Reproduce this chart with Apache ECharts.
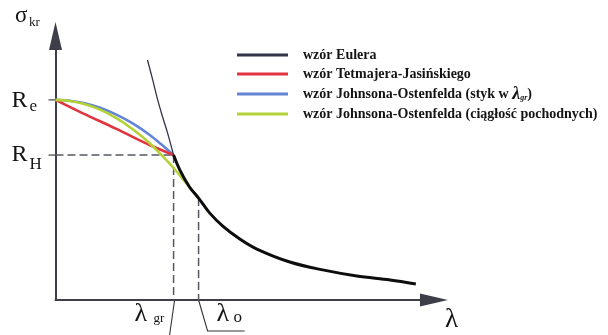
<!DOCTYPE html>
<html><head><meta charset="utf-8">
<script src="https://cdn.jsdelivr.net/npm/echarts@6/dist/echarts.min.js"></script>
<style>html,body{margin:0;padding:0;background:#fff}#c{width:608px;height:335px}</style>
</head><body><div id="c"></div>
<script>
// characteristic values (abstract units)
const RE = 75.8, RH = 54.9, LGR = 31.2, LO = 37.8, SIG_LO = 38.6;
// Euler hyperbola, thin part (above R_H)
const eulerThinX = [24.3, 25.7, 27.0, 28.3, 29.6, 31.2];
const eulerThinY = [90.9, 83.3, 75.8, 69.3, 63.3, 54.9];
// Euler hyperbola, thick part (valid range)
const eulerX = [31.2, 32.8, 35.4, 37.8, 40.7, 44.2, 48.7, 53.2, 61.9, 70.6, 79.6, 88.4, 95.2];
const eulerY = [54.9, 49.4, 42.8, 38.6, 33.0, 28.0, 23.1, 19.3, 14.4, 11.4, 9.1, 7.6, 6.1];
// Tetmajer-Jasinski
const tetX = [0, 7.1, 16.1, 24.9, 31.2];
const tetY = [75.8, 70.8, 64.8, 58.7, 54.9];
// Johnson-Ostenfeld (styk w lambda_gr)
const johX = [0, 3.7, 7.1, 11.6, 16.1, 20.6, 24.9, 28.0, 31.2];
const johY = [75.8, 75.5, 74.7, 72.9, 70.2, 66.7, 62.5, 58.9, 54.9];
// Johnson-Ostenfeld (ciaglosc pochodnych)
const jocX = [0, 3.7, 7.1, 11.6, 16.1, 20.6, 24.9, 28.0, 31.2, 34.4, 37.8];
const jocY = [75.8, 75.4, 74.4, 72.2, 68.9, 64.5, 59.4, 54.9, 50.0, 44.5, 38.6];

const names = ['wzór Eulera', 'wzór Tetmajera-Jasińskiego',
  'wzór Johnsona-Ostenfelda (styk w λgr)', 'wzór Johnsona-Ostenfelda (ciągłość pochodnych)'];
const colors = ['#34344a', '#e2343f', '#6485d6', '#b3d236'];

const zip = (xs, ys) => xs.map((x, i) => [x, ys[i]]);
const SERIF = '"Liberation Serif", "DejaVu Serif", serif';
const AX = '#3e3e48';
const DASH = '#555862';
const INK = '#141414';

const chart = echarts.init(document.getElementById('c'), null, {renderer: 'canvas'});
const line = (name, data, color, width, z) => ({
  type: 'line', name, data, symbol: 'none', smooth: 0.35, z,
  lineStyle: {color, width}, itemStyle: {color}, silent: true
});
const dashed = (data) => ({
  type: 'line', data, symbol: 'none', z: 1, silent: true,
  lineStyle: {color: DASH, width: 1.5, type: [8, 4]}
});

chart.setOption({
  animation: false,
  backgroundColor: '#fff',
  grid: {left: 55.5, right: 174, top: 36, bottom: 35},
  xAxis: {
    type: 'value', min: 0, max: 100,
    axisLine: {show: true, onZero: false, symbol: ['none', 'triangle'], symbolSize: [13, 28],
      lineStyle: {color: AX, width: 2}},
    axisTick: {show: false}, axisLabel: {show: false}, splitLine: {show: false}
  },
  yAxis: {
    type: 'value', min: 0, max: 100,
    axisLine: {show: true, onZero: false, symbol: ['none', 'triangle'], symbolSize: [13, 28],
      lineStyle: {color: AX, width: 2}},
    axisTick: {show: false}, axisLabel: {show: false}, splitLine: {show: false}
  },
  legend: {
    orient: 'vertical', left: 237, top: 47, padding: 0,
    itemWidth: 51, itemHeight: 3, itemGap: 3,
    data: names.map((n, i) => ({name: n, icon: 'rect', itemStyle: {color: colors[i]}})),
    textStyle: {
      fontFamily: SERIF, fontWeight: 'bold', fontSize: 14, color: INK, lineHeight: 16,
      padding: [0, 0, 0, 10],
      rich: {
        t: {fontFamily: SERIF, fontWeight: 'bold', fontSize: 14, color: INK, lineHeight: 16},
        l: {fontFamily: SERIF, fontWeight: 'bold', fontStyle: 'italic', fontSize: 18, color: INK, lineHeight: 16},
        s: {fontFamily: SERIF, fontWeight: 'bold', fontStyle: 'italic', fontSize: 8, color: INK, padding: [8, 0, 0, 0]}
      }
    },
    formatter: (n) => n === names[2]
      ? '{t|wzór Johnsona-Ostenfelda (styk w }{l|λ}{s|gr}{t|)}'
      : n
  },
  series: [
    dashed([[0, RH], [LGR, RH]]),
    dashed([[LGR, RH], [LGR, 0]]),
    dashed([[LO, SIG_LO], [LO, 0]]),
    line(names[2], zip(johX, johY), colors[2], 2.6, 2),
    line(names[1], zip(tetX, tetY), colors[1], 2.6, 3),
    line(names[3], zip(jocX, jocY), colors[3], 2.6, 4),
    line(names[0], zip(eulerThinX, eulerThinY), colors[0], 1.3, 5),
    line('euler-valid', zip(eulerX, eulerY), '#0d0d0d', 3, 6)
  ]
});

const P = (x, y) => chart.convertToPixel({gridIndex: 0}, [x, y]);
const o = P(0, 0), pRe = P(0, RE), pRH = P(0, RH), pG = P(LGR, 0), pO = P(LO, 0), pEnd = P(100, 0);
const txt = (text, x, y, size) => ({
  type: 'text', x, y, silent: true,
  style: {text, font: size + 'px ' + SERIF, fill: INK, align: 'left', verticalAlign: 'middle'}
});
const seg = (pts) => ({
  type: 'polyline', silent: true, shape: {points: pts},
  style: {stroke: '#333', lineWidth: 1.1, fill: null}
});
chart.setOption({
  graphic: [
    seg([[o[0] - 7, pRe[1]], [o[0], pRe[1]]]),
    seg([[o[0] - 7, pRH[1]], [o[0], pRH[1]]]),
    seg([[pG[0] + 1, o[1]], [pG[0] - 4, o[1] + 35]]),
    seg([[pO[0], o[1]], [pO[0] + 9, o[1] + 31], [pO[0] + 46, o[1] + 31]]),
    txt('σ', 15, 16, 23),
    txt('kr', 29, 22.5, 13),
    txt('R', o[0] - 44, pRe[1] + 1, 24),
    txt('e', o[0] - 26, pRe[1] + 6.5, 17),
    txt('R', o[0] - 44, pRH[1], 24),
    txt('H', o[0] - 26, pRH[1] + 9, 17),
    txt('λ', pG[0] - 39, o[1] + 14, 26),
    txt('gr', pG[0] - 20, o[1] + 19, 13),
    txt('λ', pO[0] + 18, o[1] + 14, 26),
    txt('o', pO[0] + 35, o[1] + 17.5, 17),
    txt('λ', pEnd[0] + 11, o[1] + 20, 27)
  ]
});
</script></body></html>
